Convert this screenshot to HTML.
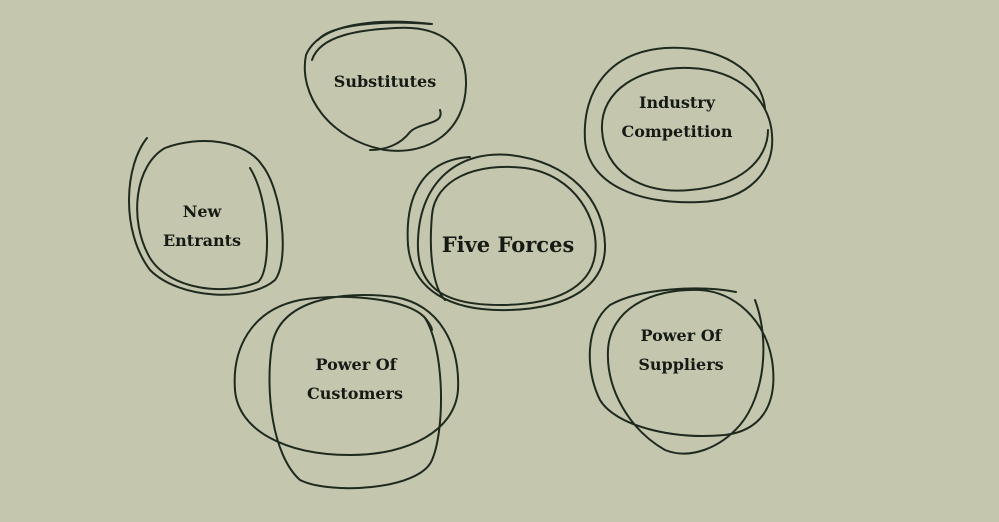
<!DOCTYPE html>
<html><head><meta charset="utf-8"><style>
html,body{margin:0;padding:0;background:#c5c6ae;}
svg{display:block}
text{font-family:"DejaVu Serif","Liberation Serif",serif;font-weight:bold;fill:#151a14;text-anchor:middle}
</style></head><body>
<svg width="999" height="522" viewBox="0 0 999 522" xmlns="http://www.w3.org/2000/svg">
<rect width="999" height="522" fill="#c5c6ae"/>
<g fill="none" stroke="#1f2a1f" stroke-width="2" stroke-linecap="round">
<path d="M432,24 C380,18 320,22 306,55 C298,95 330,140 385,150 C430,156 465,130 466,85 C467,45 440,25 395,28 C360,30 320,35 312,60"/>
<path d="M318,40 C330,25 380,20 430,24 M440,110 C445,125 420,122 410,132 C400,145 385,150 370,150"/>
<path d="M765,108 C760,70 720,45 665,48 C610,52 582,90 585,140 C588,185 640,205 700,202 C750,200 775,170 772,135 C770,100 740,70 690,68 C640,66 600,90 602,130 C604,170 640,195 690,190 C740,186 768,160 768,130"/>
<path d="M147,138 C125,165 120,230 150,270 C180,300 250,302 275,280 C290,260 282,190 262,165 C245,140 200,135 165,148 C135,165 128,220 150,258 C170,290 225,296 258,282 C272,270 270,200 250,168"/>
<path d="M470,157 C420,160 405,200 408,245 C412,290 450,312 510,310 C570,308 606,285 605,245 C604,200 570,162 510,155 C460,150 420,180 418,240 C416,285 440,305 500,305 C555,305 590,288 595,255 C600,220 575,175 525,168 C475,162 435,180 432,215 C428,260 435,290 445,300"/>
<path d="M425,318 C410,300 350,292 300,300 C250,310 232,350 235,390 C238,430 285,455 350,455 C410,455 455,430 458,390 C460,345 440,305 395,297 C340,290 280,300 272,345 C265,390 272,455 300,480 C330,495 420,490 432,460 C445,430 445,350 425,318 C420,312 432,325 432,330"/>
<path d="M736,292 C700,285 640,288 610,305 C585,325 585,370 600,400 C615,425 670,440 725,435 C765,430 778,400 772,360 C765,320 735,292 700,290 C650,288 610,310 608,350 C606,390 630,430 665,450 C690,460 720,448 740,425 C765,395 770,340 755,300"/>
</g>
<text x="385" y="87" font-size="16">Substitutes</text>
<text x="677" y="108" font-size="16">Industry</text>
<text x="677" y="137" font-size="16">Competition</text>
<text x="202" y="217" font-size="16">New</text>
<text x="202" y="246" font-size="16">Entrants</text>
<text x="508" y="252" font-size="21">Five Forces</text>
<text x="356" y="370" font-size="16">Power Of</text>
<text x="355" y="399" font-size="16">Customers</text>
<text x="681" y="341" font-size="16">Power Of</text>
<text x="681" y="370" font-size="16">Suppliers</text>
</svg>
</body></html>
